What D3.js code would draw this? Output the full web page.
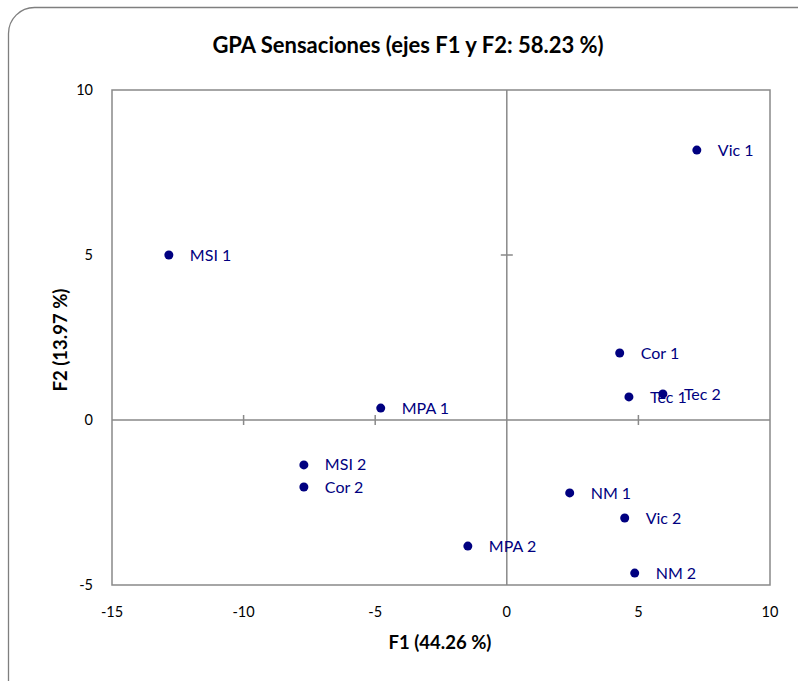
<!DOCTYPE html>
<html>
<head>
<meta charset="utf-8">
<script src="https://cdn.jsdelivr.net/npm/d3@7"></script>
<style>
  html, body { margin: 0; padding: 0; background: #fff; }
  svg { display: block; }
  text { font-family: Lato, "Open Sans", sans-serif; }
</style>
</head>
<body>
<script>
// GPA consensus configuration: sample labels and their coordinates on F1 / F2
const labels = ["Vic 1", "MSI 1", "Cor 1", "Tec 1", "Tec 2", "MPA 1", "MSI 2", "Cor 2", "NM 1", "Vic 2", "MPA 2", "NM 2"];
const f1 = [7.22, -12.84, 4.29, 4.64, 5.93, -4.79, -7.71, -7.71, 2.39, 4.48, -1.48, 4.86];
const f2 = [8.18, 5.00, 2.03, 0.70, 0.79, 0.36, -1.36, -2.03, -2.21, -2.97, -3.82, -4.64];
const xTicks = [-15, -10, -5, 0, 5, 10];
const yTicks = [-5, 0, 5, 10];

const W = 798, H = 681;
const plotL = 112, plotR = 770, plotT = 90, plotB = 585;

const svg = d3.select("body").append("svg").attr("width", W).attr("height", H);

// outer chart border
svg.append("rect")
  .attr("x", 8.5).attr("y", 7.5).attr("width", 820).attr("height", 720)
  .attr("rx", 26).attr("ry", 26)
  .attr("fill", "#fff").attr("stroke", "#7f7f7f").attr("stroke-width", 1.3);

const x = d3.scaleLinear().domain([-15, 10]).range([plotL, plotR]);
const y = d3.scaleLinear().domain([-5, 10]).range([plotB, plotT]);

// plot frame
svg.append("rect")
  .attr("x", plotL).attr("y", plotT).attr("width", plotR - plotL).attr("height", plotB - plotT)
  .attr("fill", "none").attr("stroke", "#898989").attr("stroke-width", 1.5);

// zero axes with crossing tick marks
const innerX = xTicks.filter(v => v > -15 && v < 10 && v !== 0);
const innerY = yTicks.filter(v => v > -5 && v < 10 && v !== 0);

const gx = svg.append("g").attr("transform", `translate(0,${y(0)})`);
gx.append("line").attr("x1", plotL).attr("x2", plotR).attr("stroke", "#898989").attr("stroke-width", 1.5);
gx.selectAll(".tk").data(innerX).join("line")
  .attr("x1", d => x(d)).attr("x2", d => x(d)).attr("y1", -5).attr("y2", 5)
  .attr("stroke", "#898989").attr("stroke-width", 1.5);

const gy = svg.append("g").attr("transform", `translate(${x(0)},0)`);
gy.append("line").attr("y1", plotT).attr("y2", plotB).attr("stroke", "#898989").attr("stroke-width", 1.5);
gy.selectAll(".tk").data(innerY).join("line")
  .attr("y1", d => y(d)).attr("y2", d => y(d)).attr("x1", -6).attr("x2", 6)
  .attr("stroke", "#898989").attr("stroke-width", 1.5);

// tick labels along the frame edges
svg.append("g").selectAll("text").data(xTicks).join("text")
  .attr("x", d => x(d)).attr("y", 612).attr("dy", "0.35em")
  .attr("text-anchor", "middle").attr("font-size", 14.5).attr("fill", "#000")
  .text(d => d);
svg.append("g").selectAll("text").data(yTicks).join("text")
  .attr("x", 93).attr("y", d => y(d)).attr("dy", "0.35em")
  .attr("text-anchor", "end").attr("font-size", 14.5).attr("fill", "#000")
  .text(d => d);

// points and labels
const pts = labels.map((l, i) => ({ l, a: f1[i], b: f2[i] }));
svg.append("g").selectAll("circle").data(pts).join("circle")
  .attr("cx", d => x(d.a)).attr("cy", d => y(d.b)).attr("r", 4.5)
  .attr("fill", "#000080");
svg.append("g").selectAll("text").data(pts).join("text")
  .attr("x", d => x(d.a) + 21).attr("y", d => y(d.b)).attr("dy", "0.35em")
  .attr("font-size", 16).attr("fill", "#000080")
  .text(d => d.l);

// titles
svg.append("text").attr("x", 408).attr("y", 45).attr("dy", "0.35em")
  .attr("text-anchor", "middle").attr("font-size", 22).attr("font-weight", "bold")
  .text("GPA Sensaciones (ejes F1 y F2: 58.23 %)");
svg.append("text").attr("x", 440).attr("y", 643).attr("dy", "0.35em")
  .attr("text-anchor", "middle").attr("font-size", 18.5).attr("font-weight", "bold")
  .text("F1 (44.26 %)");
svg.append("text").attr("transform", "translate(61,340) rotate(-90)").attr("dy", "0.35em")
  .attr("text-anchor", "middle").attr("font-size", 18.5).attr("font-weight", "bold")
  .text("F2 (13.97 %)");
</script>
</body>
</html>
